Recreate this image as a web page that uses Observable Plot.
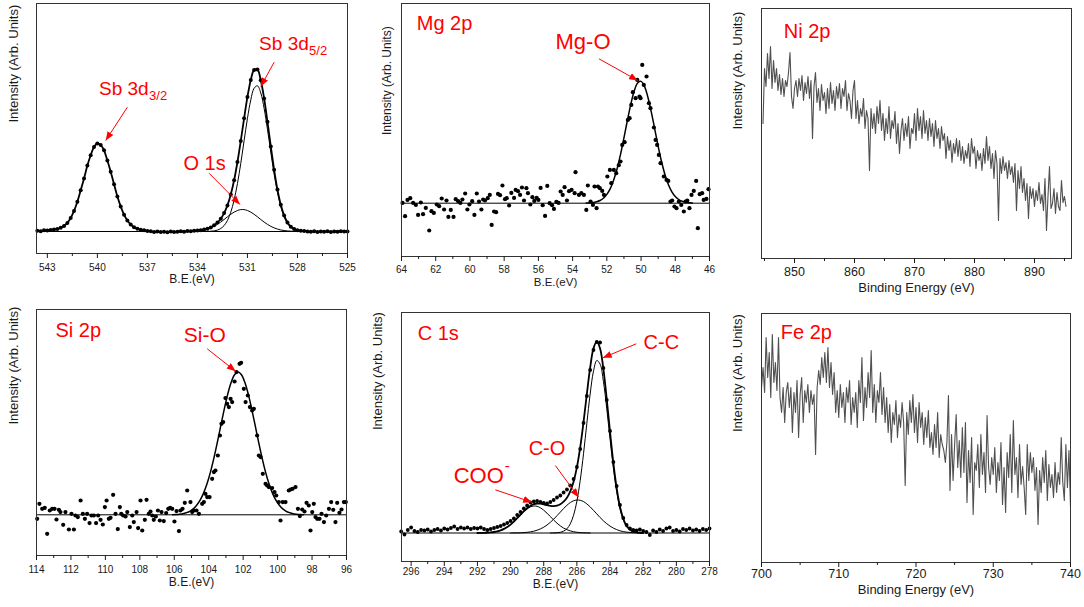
<!DOCTYPE html>
<html><head><meta charset="utf-8">
<script src="https://cdn.jsdelivr.net/npm/d3@7"></script>
<script src="https://cdn.jsdelivr.net/npm/@observablehq/plot@0.6"></script>
<style>
body{margin:0;background:#fff;}
#root{position:relative;width:1084px;height:607px;overflow:hidden;background:#fff;}
</style></head><body><div id="root"></div>
<script>
// ---------- Sb 3d / O 1s ----------
const sbE = [543.6,543.4,543.2,543.0,542.8,542.6,542.4,542.2,542.0,541.8,
541.6,541.4,541.2,541.0,540.8,540.6,540.4,540.2,540.0,539.8,
539.6,539.4,539.2,539.0,538.8,538.6,538.4,538.2,538.0,537.8,
537.6,537.4,537.2,537.0,536.8,536.6,536.4,536.2,536.0,535.8,
535.6,535.4,535.2,535.0,534.8,534.6,534.4,534.2,534.0,533.8,
533.6,533.4,533.2,533.0,532.8,532.6,532.4,532.2,532.0,531.8,
531.6,531.4,531.2,531.0,530.8,530.6,530.4,530.2,530.0,529.8,
529.6,529.4,529.2,529.0,528.8,528.6,528.4,528.2,528.0,527.8,
527.6,527.4,527.2,527.0,526.8,526.6,526.4,526.2,526.0,525.8,
525.6,525.4,525.2,525.0];
const sbI = [0.8,0.3,1.2,0.9,1.6,2.0,2.6,3.8,5.6,8.6,
13.5,20.6,29.8,41.2,53.0,65.9,76.2,84.6,88.0,86.4,
81.2,71.0,59.8,47.3,35.0,25.1,16.8,10.9,6.9,4.3,
2.8,1.7,1.3,0.6,0.2,-0.4,0.1,-0.6,-0.2,-0.7,
0.0,-0.5,-0.3,0.2,-0.2,0.4,0.3,0.7,0.9,1.3,
1.9,2.8,4.1,6.2,8.9,12.8,18.4,26.1,37.0,51.2,
69.5,90.6,113.2,134.6,151.6,161.5,162.0,151.2,133.0,109.8,
85.1,61.7,41.9,26.8,16.1,9.0,4.8,2.6,1.3,0.7,
0.4,0.1,-0.3,0.2,-0.4,0.0,-0.2,0.3,-0.5,0.1,
-0.3,0.2,-0.1,0.0];
const sb52E = [533.6,533.4,533.2,533.0,532.8,532.6,532.4,532.2,532.0,531.8,531.6,531.4,531.2,531.0,530.8,530.6,530.4,530.2,530.0,529.8,529.6,529.4,529.2,529.0,528.8,528.6,528.4,528.2,528.0,527.8,527.6,527.4];
const sb52I = [0,0.1,0.25,0.6,1.4,3.0,5.9,11.0,19.3,31.4,47.9,68.2,90.9,113.1,131.6,143.3,145.7,138.5,123.1,102.2,79.4,57.6,39.1,24.8,14.7,8.1,4.2,2.0,0.9,0.4,0.15,0];
const o1sE = [534.4,534.2,534.0,533.8,533.6,533.4,533.2,533.0,532.8,532.6,532.4,532.2,532.0,531.8,531.6,531.4,531.2,531.0,530.8,530.6,530.4,530.2,530.0,529.8,529.6,529.4,529.2,529.0,528.8,528.6,528.4,528.2,528.0,527.8];
const o1sI = [0.18,0.33,0.57,0.97,1.56,2.43,3.61,5.19,7.14,9.45,12.0,14.7,17.2,19.4,21.0,21.9,21.9,21.0,19.4,17.2,14.7,12.0,9.45,7.14,5.19,3.61,2.43,1.56,0.97,0.57,0.33,0.18,0.1,0.05];
const sbTicks = [543,540,537,534,531,528,525];
const sbMinor = [541.5,538.5,535.5,532.5,529.5,526.5];
const sbLabText = ["Sb 3d","Sb 3d","O 1s"];
const sbLabE = [539.9,530.3,534.84];
const sbLabI = [142.7,187.7,67.7];
const sbSubText = ["3/2","5/2"];
const sbArrE1 = [538.2,529.4,533.3], sbArrI1 = [124.3,169.3,58.3];
const sbArrE2 = [539.5,530.2,531.45], sbArrI2 = [91,145,27];

// ---------- Mg 2p ----------
const mgE = [63.94,63.79,63.65,63.49,63.32,63.16,63.03,62.87,62.74,62.58,
62.38,62.25,62.11,61.94,61.80,61.65,61.51,61.37,61.26,61.12,
60.96,60.83,60.69,60.56,60.44,60.28,60.15,60.03,59.87,59.74,
59.60,59.47,59.33,59.23,59.12,58.96,58.84,58.73,58.59,58.47,
58.36,58.24,58.10,57.95,57.85,57.71,57.58,57.42,57.33,57.19,
57.07,56.96,56.84,56.70,56.61,56.47,56.35,56.24,56.10,56.00,
55.87,55.75,55.61,55.48,55.34,55.20,55.09,54.95,54.82,54.70,
54.58,54.47,54.33,54.21,
54.06,53.88,53.83,53.63,53.49,53.34,53.20,53.11,52.95,52.81,
52.72,52.60,52.52,52.41,52.27,52.17,51.97,51.82,51.74,51.59,
51.45,51.30,51.20,51.10,50.96,50.77,50.67,50.57,50.48,50.32,
50.22,50.09,50.03,49.93,49.84,49.68,49.54,49.45,49.25,49.15,
49.06,48.96,48.86,48.67,48.51,48.41,48.28,48.18,48.05,47.93,
47.79,47.65,47.50,47.40,47.30,47.17,47.05,46.92,46.78,46.68,
46.57,46.43,46.34,46.18,46.06];
const mgI = [0.3,-13,3.3,5,0.3,-1.7,-11.7,0.7,-11,-4.7,
-27.3,-8,-9.7,-1.3,-3,4.7,-6.3,2.7,-13.7,-6.7,
-13.7,4,2,0.3,3.7,9.7,-6.3,-1.3,2,-11.7,
9.7,1.7,-6.3,3.7,2.7,5,8.3,-21.7,-8.3,-9,
9.3,8,17.7,4,5,-2.3,10.3,5.3,13.3,12,
8.3,15.7,2.7,15,10,-1.3,6,2.3,5.3,3.3,
15.3,-2,-12.7,17.3,0,-2,-5.7,1.3,0.3,11.7,
8.3,16,2.7,12,
13.3,10,31,8.3,10,8.3,-6.7,17.7,1.7,-1.7,
16.7,-5,16.7,15,12.3,8.3,26.7,33.3,20,33.3,
30,38,41.7,58.3,61,83.3,85,98.3,111,105,
123.3,106.7,105,138.3,118.3,126.7,100,95,75.7,63.3,
58.3,48.3,40,26.7,23.3,22.3,1.7,2.7,-3.3,-5,
1.7,-1.7,-8.3,1.7,2.7,-5,8.3,12.3,22.3,-25,
9,10,3.3,4.3,14];
const mgFitE = [53.2,53.0,52.8,52.6,52.4,52.2,52.0,51.8,51.6,51.4,51.2,51.0,50.8,50.6,50.4,50.2,50.0,49.8,49.6,49.4,49.2,49.0,48.8,48.6,48.4,48.2,48.0,47.8,47.6,47.4,47.2,47.0];
const mgFitI = [0.1,0.3,0.6,1.4,2.7,5.0,8.8,14.6,23.2,34.5,48.8,65.3,82.7,98.9,112.1,120.2,121.8,116.9,106.0,91.1,74.1,56.9,41.4,28.4,18.5,11.4,6.7,3.7,1.9,0.9,0.4,0.2];
const mgTicks = [64,62,60,58,56,54,52,50,48,46];
const mgMinor = [63,61,59,57,55,53,51,49,47];

// ---------- Ni 2p ----------
const niE = [844.75,845,845.25,845.5,845.75,846,846.25,846.5,846.75,847,
847.25,847.5,847.75,848,848.25,848.5,848.75,849,849.25,849.5,
849.75,850,850.25,850.5,850.75,851,851.25,851.5,851.75,852,
852.25,852.5,852.75,853,853.25,853.5,853.75,854,854.25,854.5,
854.75,855,855.25,855.5,855.75,856,856.25,856.5,856.75,857,
857.25,857.5,857.75,858,858.25,858.5,858.75,859,859.25,859.5,
859.75,860,860.25,860.5,860.75,861,861.25,861.5,861.75,862,
862.25,862.5,862.75,863,863.25,863.5,863.75,864,864.25,864.5,
864.75,865,865.25,865.5,865.75,866,866.25,866.5,866.75,867,
867.25,867.5,867.75,868,868.25,868.5,868.75,869,869.25,869.5,
869.75,870,870.25,870.5,870.75,871,871.25,871.5,871.75,872,
872.25,872.5,872.75,873,873.25,873.5,873.75,874,874.25,874.5,
874.75,875,875.25,875.5,875.75,876,876.25,876.5,876.75,877,
877.25,877.5,877.75,878,878.25,878.5,878.75,879,879.25,879.5,
879.75,880,880.25,880.5,880.75,881,881.25,881.5,881.75,882,
882.25,882.5,882.75,883,883.25,883.5,883.75,884,884.25,884.5,
884.75,885,885.25,885.5,885.75,886,886.25,886.5,886.75,887,
887.25,887.5,887.75,888,888.25,888.5,888.75,889,889.25,889.5,
889.75,890,890.25,890.5,890.75,891,891.25,891.5,891.75,892,
892.25,892.5,892.75,893,893.25,893.5,893.75,894,894.25,894.5,
894.75,895,895.25];
const niI = [135,190,172,205,180,212,170,198,176,190,
168,184,164,180,162,178,172,186,206,162,
150,170,178,162,180,168,183,158,176,165,
182,160,178,120,172,186,156,170,148,174,
158,166,145,170,150,176,155,168,148,172,
160,175,150,170,162,178,148,165,158,140,
168,178,140,158,135,150,142,160,130,148,
140,88,150,130,145,125,152,135,158,128,
145,118,140,125,152,120,138,130,147,115,
135,105,128,140,118,135,122,142,110,130,
125,145,118,150,128,142,120,148,125,138,
118,140,122,135,112,138,120,130,110,132,
118,125,100,122,108,118,96,115,105,120,
102,118,98,112,95,108,100,115,92,120,
105,112,90,108,98,105,88,110,95,122,
98,112,90,105,80,108,95,38,100,85,
102,88,96,80,98,84,92,76,95,48,
88,70,92,66,80,58,75,40,72,60,
70,52,68,58,76,55,64,48,80,28,
62,92,50,55,70,45,66,52,48,78,
56,62,52];
const niTicks = [850,860,870,880,890];
const niMinor = [845,855,865,875,885,895];

// ---------- Si 2p ----------
const siE = [113.96,113.83,113.67,113.52,113.38,113.23,113.09,112.95,112.84,112.70,
112.61,112.45,112.32,112.12,111.97,111.83,111.74,111.60,111.44,111.31,
111.19,111.06,110.92,110.81,110.67,110.54,110.42,110.28,110.15,110.03,
109.93,109.80,109.70,109.55,109.41,109.28,109.16,109.08,108.97,108.83,
108.73,108.58,108.44,108.35,108.19,108.10,107.96,107.86,107.71,107.61,
107.48,107.38,107.28,107.19,107.07,106.95,106.84,106.74,106.61,106.47,
106.35,106.24,106.12,105.99,105.87,105.73,105.64,105.52,105.39,105.25,
105.06,104.96,104.86,104.71,104.57,104.38,104.28,104.19,104.09,103.95,
103.80,103.70,103.61,103.47,103.35,103.26,103.16,103.03,102.93,102.83,
102.73,102.64,102.50,102.39,102.21,102.12,101.96,101.86,101.73,101.61,
101.48,101.38,101.19,101.09,100.99,100.86,100.70,100.61,100.51,100.32,
100.18,100.08,99.93,99.83,99.70,99.54,99.35,99.25,99.13,98.96,
98.82,98.71,98.57,98.44,98.32,98.19,98.09,97.99,97.90,97.80,
97.70,97.57,97.45,97.31,97.18,97.02,96.89,96.77,96.64,96.54,
96.41,96.29,96.15,96.04];
const siI = [-4,11,6,7,-19,4.3,6,6,-4.7,5,
2.7,-10,2.7,-14.7,1,-14.7,-0.7,-2.3,14.3,1,
-4,1,-8.3,-0.7,-0.7,-8.3,-0.7,-5,-9.7,7.7,
14.3,-4,-3,20,1,-14.3,7.7,1,-0.7,-1.7,
2.7,-12.3,-0.7,-7.3,2.7,-13.3,14.3,-15.7,-5,15,
1,3.3,-0.7,-5,-1.7,4.3,-5.7,2.7,-6.3,1.7,
6,7,6,-6.7,3.7,-16.3,4.3,6,12,24.3,
12.7,2.7,4.3,4.3,1,11,12.7,21,17.7,17.7,
36,42.7,44.3,59.3,79.3,91,92.7,116.7,111,107.7,
116,112.7,133.3,142.7,151,152,126,112.7,119.3,107.7,
104.3,106,79.3,59.3,57.7,41,31,29.3,27.7,26.7,
22.7,19.3,12.7,-5.7,12.7,12.7,24.3,25.3,26,27.7,
6,-1.3,5.3,3.3,12,9.3,-15.7,2.7,11,-2.3,
-4,-4,1,-7.3,-0.7,6,12.7,5,-7.3,12,
2,5.3,12.7,12.7];
const siFitE = [106.1,105.9,105.7,105.5,105.3,105.1,104.9,104.7,104.5,104.3,104.1,103.9,103.7,103.5,103.3,103.1,102.9,102.7,102.5,102.3,102.1,101.9,101.7,101.5,101.3,101.1,100.9,100.7,100.5,100.3,100.1,99.9,99.7,99.5,99.3,99.1,98.9,98.7,98.5];
const siFitI = [0.15,0.3,0.6,1.1,2.1,3.5,5.9,9.5,14.6,21.7,31.0,42.7,56.7,72.4,89.1,105.5,120.4,132.3,140.0,142.7,140.0,132.3,120.4,105.5,89.1,72.4,56.7,42.7,31.0,21.7,14.6,9.5,5.9,3.5,2.1,1.1,0.6,0.3,0.15];
const siTicks = [114,112,110,108,106,104,102,100,98,96];
const siMinor = [113,111,109,107,105,103,101,99,97];

// ---------- C 1s ----------
const cE = [296.6,296.4,296.2,296.0,295.8,295.6,295.4,295.2,295.0,294.8,
294.6,294.4,294.2,294.0,293.8,293.6,293.4,293.2,293.0,292.8,
292.6,292.4,292.2,292.0,291.8,291.6,291.4,291.2,291.0,290.8,
290.6,290.4,290.2,290.0,289.8,289.6,289.4,289.2,289.0,288.8,
288.6,288.4,288.2,288.0,287.8,287.6,287.4,287.2,287.0,286.8,
286.6,286.4,286.2,286.0,285.8,285.6,285.4,285.2,285.0,284.8,
284.6,284.4,284.2,284.0,283.8,283.6,283.4,283.2,283.0,282.8,
282.6,282.4,282.2,282.0,281.8,281.6,281.4,281.2,281.0,280.8,
280.6,280.4,280.2,280.0,279.8,279.6,279.4,279.2,279.0,278.8,
278.6,278.4,278.2,278.0];
const cI = [1.5,-1.5,3.0,5.5,2.0,1.0,3.0,2.5,3.5,1.5,
3.0,4.0,2.5,4.5,3.5,5.0,6.5,4.0,5.5,4.5,
5.5,4.0,5.0,4.5,5.5,4.0,3.0,4.0,5.0,6.0,
7.0,8.5,10.0,12.0,14.5,18.0,21.0,24.5,27.5,30.5,
31.5,32.0,31.0,30.0,29.5,31.0,33.0,35.5,37.5,40.5,
43.5,47.5,54.0,66.0,84.0,110.0,137.0,163.0,183.0,191.0,
190.5,165.0,133.0,102.0,71.0,47.0,28.0,15.0,8.0,4.5,
3.0,2.5,3.5,2.0,1.0,-2.0,2.5,1.0,3.5,2.0,
4.5,5.5,2.0,3.0,1.5,4.0,3.0,4.5,2.5,3.5,
2.0,4.0,3.0,4.5];
const cEnvE = [292.0,291.8,291.6,291.4,291.2,291.0,290.8,290.6,290.4,290.2,
290.0,289.8,289.6,289.4,289.2,289.0,288.8,288.6,288.4,288.2,
288.0,287.8,287.6,287.4,287.2,287.0,286.8,286.6,286.4,286.2,
286.0,285.8,285.6,285.4,285.2,285.0,284.8,284.6,284.4,284.2,
284.0,283.8,283.6,283.4,283.2,283.0,282.8,282.6,282.4,282.2,282.0];
const cEnvI = [0.0,0.1,0.2,0.3,0.6,1.0,1.6,2.6,4.1,6.0,
8.4,11.5,14.8,18.3,21.8,24.8,27.3,28.8,29.5,29.3,
28.6,27.8,27.1,26.9,27.4,28.7,31.3,35.2,41.6,51.3,
65.6,85.6,110.8,138.8,165.3,184.4,191.6,184.4,163.8,134.0,
101.1,70.1,44.8,26.3,14.3,7.2,3.5,1.5,0.6,0.25,0.1];
const cooE = [292.0,291.8,291.6,291.4,291.2,291.0,290.8,290.6,290.4,290.2,
290.0,289.8,289.6,289.4,289.2,289.0,288.8,288.6,288.4,288.2,
288.0,287.8,287.6,287.4,287.2,287.0,286.8,286.6,286.4,286.2,
286.0,285.8,285.6,285.4,285.2];
const cooI = [0.04,0.08,0.16,0.3,0.55,0.97,1.6,2.6,4.1,6.0,
8.4,11.4,14.7,18.1,21.4,24.1,26.1,27.0,26.7,25.2,
22.8,19.8,16.4,13.0,9.8,7.1,4.9,3.3,2.1,1.3,
0.74,0.41,0.22,0.11,0.05];
const coE = [290.0,289.8,289.6,289.4,289.2,289.0,288.8,288.6,288.4,288.2,
288.0,287.8,287.6,287.4,287.2,287.0,286.8,286.6,286.4,286.2,
286.0,285.8,285.6,285.4,285.2,285.0,284.8,284.6,284.4,284.2,
284.0,283.8,283.6,283.4,283.2,283.0,282.8,282.6,282.4,282.2,282.0];
const coI = [0.04,0.07,0.12,0.23,0.4,0.7,1.15,1.8,2.8,4.1,
5.8,8.0,10.7,13.8,17.3,20.9,24.5,27.7,30.4,32.2,
33.0,32.7,31.4,29.1,26.2,22.7,19.1,15.5,12.2,9.3,
6.9,4.9,3.4,2.2,1.4,0.9,0.55,0.3,0.17,0.1,0.05];
const ccE = [287.6,287.4,287.2,287.0,286.8,286.6,286.4,286.2,286.0,285.8,
285.6,285.4,285.2,285.0,284.8,284.6,284.4,284.2,284.0,283.8,
283.6,283.4,283.2,283.0,282.8,282.6,282.4,282.2,282.0];
const ccI = [0.03,0.08,0.25,0.7,1.9,4.2,9.1,17.8,31.9,52.5,
79.2,109.6,139.0,161.7,172.5,168.9,151.6,124.7,94.2,65.2,
41.4,24.1,12.9,6.3,2.9,1.2,0.45,0.15,0.05];
const cTicks = [296,294,292,290,288,286,284,282,280,278];
const cMinor = [295,293,291,289,287,285,283,281,279];
const cLabText = ["C-C","C-O"];
const cLabE = [281.98,288.91];
const cLabI = [190.8,84.2];
const cArrE1 = [282.42,287.30,290.92], cArrI1 = [189.2,67.5,43.2];
const cArrE2 = [284.43,285.9,288.71], cArrI2 = [175.2,35.8,30.8];

// ---------- Fe 2p ----------
const feE = [700,700.2,700.4,700.6,700.8,701,701.2,701.4,701.6,701.8,
702,702.2,702.4,702.6,702.8,703,703.2,703.4,703.6,703.8,
704,704.2,704.4,704.6,704.8,705,705.2,705.4,705.6,705.8,
706,706.2,706.4,706.6,706.8,707,707.2,707.4,707.6,707.8,
708,708.2,708.4,708.6,708.8,709,709.2,709.4,709.6,709.8,
710,710.2,710.4,710.6,710.8,711,711.2,711.4,711.6,711.8,
712,712.2,712.4,712.6,712.8,713,713.2,713.4,713.6,713.8,
714,714.2,714.4,714.6,714.8,715,715.2,715.4,715.6,715.8,
716,716.2,716.4,716.6,716.8,717,717.2,717.4,717.6,717.8,
718,718.2,718.4,718.6,718.8,719,719.2,719.4,719.6,719.8,
720,720.2,720.4,720.6,720.8,721,721.2,721.4,721.6,721.8,
722,722.2,722.4,722.6,722.8,723,723.2,723.4,723.6,723.8,
724,724.2,724.4,724.6,724.8,725,725.2,725.4,725.6,725.8,
726,726.2,726.4,726.6,726.8,727,727.2,727.4,727.6,727.8,
728,728.2,728.4,728.6,728.8,729,729.2,729.4,729.6,729.8,
730,730.2,730.4,730.6,730.8,731,731.2,731.4,731.6,731.8,
732,732.2,732.4,732.6,732.8,733,733.2,733.4,733.6,733.8,
734,734.2,734.4,734.6,734.8,735,735.2,735.4,735.6,735.8,
736,736.2,736.4,736.6,736.8,737,737.2,737.4,737.6,737.8,
738,738.2,738.4,738.6,738.8,739,739.2,739.4,739.6,739.8,
740];
const feI = [175,195,170,225,185,210,165,228,180,200,
172,225,165,150,175,140,170,180,155,175,
130,170,150,182,125,168,185,140,172,160,
178,150,172,158,168,108,175,192,178,205,
185,210,180,215,175,200,168,190,150,172,
145,178,155,170,140,175,160,182,138,165,
150,170,135,182,160,205,142,175,155,190,
165,212,150,178,140,172,160,190,148,175,
140,165,130,158,120,150,138,162,125,148,
135,160,140,77,150,128,162,140,168,130,
155,120,160,135,150,118,145,125,152,115,
130,108,138,115,150,105,128,118,112,100,
120,167,72,128,82,118,148,95,122,85,
135,90,140,60,112,80,125,48,100,92,
118,75,128,88,110,70,147,95,78,105,
88,115,70,100,82,120,58,95,50,110,
85,128,70,142,88,105,65,118,78,96,
75,48,118,82,110,90,105,72,95,38,
92,70,105,80,112,62,98,75,88,65,
100,70,90,78,125,80,62,118,75,112,
55];
const feTicks = [700,710,720,730,740];
const feMinor = [705,715,725,735];

// ---------- drawing ----------
const FONT = '"Liberation Sans", Arial, Helvetica, sans-serif';
const RED = "#ff0000";
const INK = "#1a1a1a";
const root = document.getElementById("root");

function dotsMark(E, I, r) { return Plot.dot(E, {x: E, y: I, r, fill: "#000"}); }
function lineMark(E, I, w, color, curve) { return Plot.line(E, {x: E, y: I, stroke: color || "#000", strokeWidth: w, curve: curve || "catmull-rom"}); }
function arrowsMark(x1, y1, x2, y2) {
  return Plot.link(x1, {x1, y1, x2, y2, stroke: RED, strokeWidth: 1, className: "ann-arrow"});
}
function labelMark(texts, xs, ys, size, extra) {
  return Plot.text(texts, Object.assign({x: xs, y: ys, text: d => d, fill: RED, fontSize: size, textAnchor: "start"}, extra || {}));
}

let arrowId = 0;
function panel(o) {
  const mL = 44, mR = 8, mT = 6, mB = 46;
  const width = o.R - o.L + mL + mR;
  const height = o.B - o.T + mT + mB;
  const svg = Plot.plot({
    width, height, marginLeft: mL, marginRight: mR, marginTop: mT, marginBottom: mB,
    style: {background: "transparent", fontFamily: FONT, color: INK, overflow: "visible"},
    x: {domain: o.xDomain},
    y: {domain: o.yDomain, axis: null},
    marks: [
      ...o.marks,
      Plot.frame({stroke: "#333", strokeWidth: 1}),
      Plot.axisX({ticks: o.major, tickSize: 5, tickPadding: o.pad, fontSize: o.tickFont, label: null, tickFormat: d => String(d)}),
      Plot.axisX({ticks: o.minor, tickSize: 3, tickFormat: () => "", label: null}),
      Plot.text([o.xLabel], {frameAnchor: "bottom", dy: o.xLabelDy, fontSize: o.xLabelFont, text: d => d, fill: INK}),
      Plot.text(["Intensity (Arb. Units)"], {frameAnchor: "left", rotate: -90, dx: o.yDx, dy: o.yDy, fontSize: o.yFont || 13, text: d => d, fill: INK})
    ]
  });
  svg.style.position = "absolute";
  svg.style.left = (o.L - mL) + "px";
  svg.style.top = (o.T - mT) + "px";
  svg.style.maxWidth = "none";
  // filled arrowheads
  const ns = "http://www.w3.org/2000/svg";
  const id = "ah" + (++arrowId);
  const defs = document.createElementNS(ns, "defs");
  const m = document.createElementNS(ns, "marker");
  m.setAttribute("id", id); m.setAttribute("viewBox", "0 0 10 8");
  m.setAttribute("refX", "10"); m.setAttribute("refY", "4");
  m.setAttribute("markerWidth", "9"); m.setAttribute("markerHeight", "7");
  m.setAttribute("markerUnits", "userSpaceOnUse"); m.setAttribute("orient", "auto");
  const p = document.createElementNS(ns, "path");
  p.setAttribute("d", "M0,0L10,4L0,8Z"); p.setAttribute("fill", RED);
  m.appendChild(p); defs.appendChild(m); svg.insertBefore(defs, svg.firstChild);
  svg.querySelectorAll('g.ann-arrow path, g[aria-label="link"] path').forEach(el => el.setAttribute("marker-end", `url(#${id})`));
  root.appendChild(svg);
}

// Panel 1: Sb 3d
panel({L: 36, R: 347, T: 3, B: 253, xDomain: [543.65, 525], yDomain: [-22, 228],
  major: sbTicks, minor: sbMinor, tickFont: 10, pad: 5,
  xLabel: "B.E.(eV)", xLabelDy: 29, xLabelFont: 12, yDx: -23, yDy: -6,
  marks: [
    Plot.ruleY([0], {stroke: "#000", strokeWidth: 1}),
    lineMark(o1sE, o1sI, 1),
    lineMark(sb52E, sb52I, 1),
    lineMark(sbE, sbI, 1.8),
    dotsMark(sbE, sbI, 2),
    arrowsMark(sbArrE1, sbArrI1, sbArrE2, sbArrI2),
    labelMark(sbLabText.slice(0, 2), sbLabE.slice(0, 2), sbLabI.slice(0, 2), 19),
    labelMark(sbSubText, sbLabE.slice(0, 2), sbLabI.slice(0, 2), 13, {dx: 50, dy: 7}),
    labelMark(sbLabText.slice(2), sbLabE.slice(2), sbLabI.slice(2), 20)
  ]});

// Panel 2: Mg 2p
panel({L: 401, R: 709, T: 3, B: 256, xDomain: [64, 46], yDomain: [-53.3, 199.7],
  major: mgTicks, minor: mgMinor, tickFont: 10, pad: 4,
  xLabel: "B.E.(eV)", xLabelDy: 29, xLabelFont: 11.5, yDx: -14, yDy: 5, yFont: 12,
  marks: [
    Plot.ruleY([0], {stroke: "#000", strokeWidth: 1}),
    lineMark(mgFitE, mgFitI, 1.5),
    dotsMark(mgE, mgI, 2.1),
    arrowsMark([52.46], [144.4], [50.19], [122.7]),
    labelMark(["Mg 2p"], [63.11], [179.4], 20),
    labelMark(["Mg-O"], [55.0], [161], 22)
  ]});

// Panel 3: Ni 2p
panel({L: 761, R: 1071, T: 8, B: 258, xDomain: [844.5, 896.17], yDomain: [0, 250],
  major: niTicks, minor: niMinor, tickFont: 12.5, pad: 4,
  xLabel: "Binding Energy (eV)", xLabelDy: 33, xLabelFont: 13, yDx: -24, yDy: -4,
  marks: [
    lineMark(niE, niI, 1.1, "#505050", "linear"),
    labelMark(["Ni 2p"], [848.2], [226.6], 20)
  ]});

// Panel 4: Si 2p
panel({L: 36, R: 346, T: 309, B: 555, xDomain: [114, 96], yDomain: [-40.7, 205.3],
  major: siTicks, minor: siMinor, tickFont: 10, pad: 5,
  xLabel: "B.E.(eV)", xLabelDy: 30, xLabelFont: 12, yDx: -23, yDy: -8,
  marks: [
    Plot.ruleY([0], {stroke: "#000", strokeWidth: 1}),
    lineMark(siFitE, siFitI, 1.5),
    dotsMark(siE, siI, 2.1),
    arrowsMark([104.09], [166], [102.44], [143.6]),
    labelMark(["Si 2p"], [112.9], [184.3], 20),
    labelMark(["Si-O"], [105.45], [179.3], 21)
  ]});

// Panel 5: C 1s
panel({L: 401, R: 709, T: 312, B: 561, xDomain: [296.58, 278], yDomain: [-28.5, 220.5],
  major: cTicks, minor: cMinor, tickFont: 10, pad: 1,
  xLabel: "B.E.(eV)", xLabelDy: 26, xLabelFont: 12, yDx: -24, yDy: -7,
  marks: [
    Plot.ruleY([0], {stroke: "#000", strokeWidth: 1}),
    lineMark(cooE, cooI, 1),
    lineMark(coE, coI, 1),
    lineMark(ccE, ccI, 1),
    lineMark(cEnvE, cEnvI, 1.8),
    dotsMark(cE, cI, 1.9),
    arrowsMark(cArrE1, cArrI1, cArrE2, cArrI2),
    labelMark(["C 1s"], [295.6], [199.2], 20),
    labelMark(cLabText, cLabE, cLabI, 20),
    labelMark(["COO"], [293.43], [57.5], 22),
    labelMark(["-"], [293.43], [57.5], 15, {dx: 51, dy: -9})
  ]});

// Panel 6: Fe 2p
panel({L: 761, R: 1070, T: 313, B: 562, xDomain: [700, 740], yDomain: [0, 249],
  major: feTicks, minor: feMinor, tickFont: 12.5, pad: 2,
  xLabel: "Binding Energy (eV)", xLabelDy: 31, xLabelFont: 13, yDx: -24, yDy: -6,
  marks: [
    lineMark(feE, feI, 1.1, "#505050", "linear"),
    labelMark(["Fe 2p"], [702.5], [230], 20)
  ]});
</script></body></html>
